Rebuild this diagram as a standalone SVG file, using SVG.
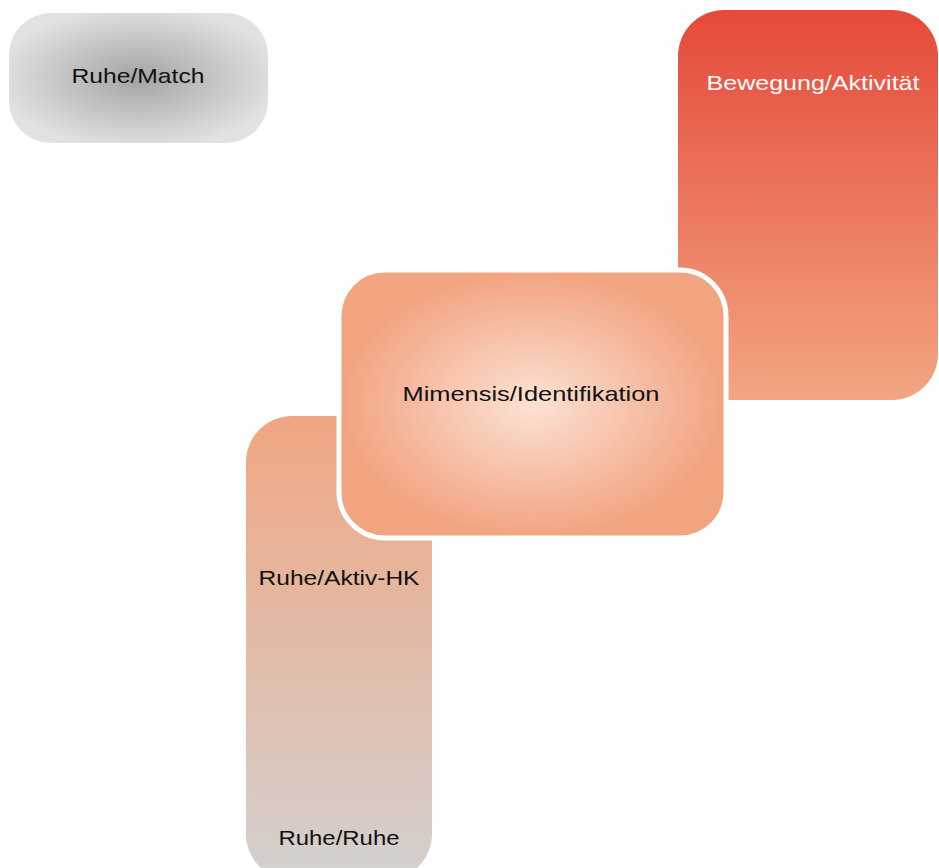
<svg xmlns="http://www.w3.org/2000/svg" width="939" height="868" viewBox="0 0 939 868">
<defs>
<radialGradient id="gGray" cx="50%" cy="50%" r="55%">
<stop offset="0" stop-color="#a4a4a4"/>
<stop offset="1" stop-color="#e2e2e2"/>
</radialGradient>
<linearGradient id="gRed" x1="0" y1="0" x2="0" y2="1">
<stop offset="0" stop-color="#e5493a"/>
<stop offset="1" stop-color="#f2a683"/>
</linearGradient>
<linearGradient id="gTan" x1="0" y1="0" x2="0" y2="1">
<stop offset="0" stop-color="#f0a681"/>
<stop offset="1" stop-color="#d3d1cf"/>
</linearGradient>
<radialGradient id="gPeach" cx="50%" cy="50%" r="50%">
<stop offset="0" stop-color="#fce2d4"/>
<stop offset="1" stop-color="#f2a380"/>
</radialGradient>
</defs>
<style>
.t{font-family:"Liberation Sans","DejaVu Sans",sans-serif;font-size:21px;text-anchor:middle;fill:#111}
.w{fill:#ffffff}
</style>
<g id="ruhe-match">
<rect x="9" y="13" width="259" height="130" rx="42" fill="url(#gGray)"/>
<text class="t" x="138" y="83" textLength="133" lengthAdjust="spacingAndGlyphs">Ruhe/Match</text>
</g>
<g id="bewegung">
<rect x="678" y="10" width="260" height="390" rx="46" fill="url(#gRed)"/>
<text class="t w" x="813" y="90" textLength="213" lengthAdjust="spacingAndGlyphs">Bewegung/Aktivität</text>
</g>
<g id="ruhe-aktiv">
<rect x="246" y="416" width="186" height="464" rx="46" fill="url(#gTan)"/>
<text class="t" x="339" y="585" textLength="161" lengthAdjust="spacingAndGlyphs">Ruhe/Aktiv-HK</text>
<text class="t" x="339" y="845" textLength="121" lengthAdjust="spacingAndGlyphs">Ruhe/Ruhe</text>
</g>
<g id="mimensis">
<rect x="339" y="270" width="387" height="268" rx="46" fill="url(#gPeach)" stroke="#ffffff" stroke-width="5"/>
<text class="t" x="531" y="401" textLength="257" lengthAdjust="spacingAndGlyphs">Mimensis/Identifikation</text>
</g>
<g id="connectors"></g>
</svg>
